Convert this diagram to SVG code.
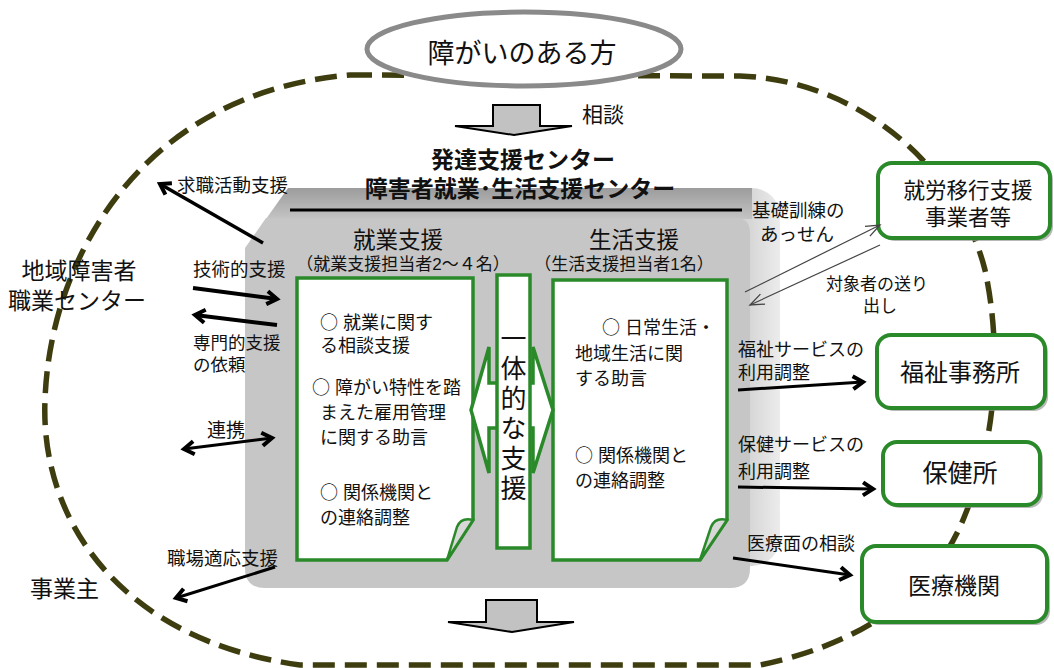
<svg xmlns="http://www.w3.org/2000/svg" width="1054" height="668" viewBox="0 0 1054 668">
<defs>
<style>
text{font-family:"Liberation Sans","Noto Sans CJK JP",sans-serif;fill:#111;}
.c{font-family:"Noto Sans CJK JP",sans-serif;}
.t18{font-size:18px;}
.t185{font-size:18.5px;}
.t23{font-size:23px;}
.title{font-size:23px;font-weight:bold;text-anchor:middle;}
.mid{text-anchor:middle;}
.box{fill:#fff;stroke:#2a8a2a;stroke-width:4;}
.shadow{fill:#9a9a9a;opacity:0.7;}
.panel{fill:#fff;stroke:#2a8a2a;stroke-width:3.5;stroke-linejoin:miter;}
.arr{fill:none;stroke:#000;stroke-width:3.5;marker-end:url(#ah);}
.arr3{fill:none;stroke:#000;stroke-width:3;marker-end:url(#ah);}
.thin{fill:none;stroke:#444;stroke-width:1.2;marker-end:url(#ahThin);}
.big{fill:#c2c2c2;stroke:#000;stroke-width:2;stroke-linejoin:miter;}
</style>
<marker id="ah" markerUnits="userSpaceOnUse" markerWidth="18" markerHeight="18" viewBox="0 0 18 18" refX="14" refY="9" orient="auto-start-reverse">
<path d="M4,2.5 L14,9 L4,15.5" fill="none" stroke="#000" stroke-width="4"/>
</marker>
<marker id="ahThin" markerUnits="userSpaceOnUse" markerWidth="18" markerHeight="14" viewBox="0 0 18 14" refX="16" refY="7" orient="auto">
<path d="M2,1.5 L16,7 L2,12.5" fill="none" stroke="#444" stroke-width="1.3"/>
</marker>
<linearGradient id="bandGrad" x1="0" y1="0" x2="0" y2="1">
<stop offset="0" stop-color="#9c9c9c"/>
<stop offset="1" stop-color="#c4c4c4"/>
</linearGradient>
<linearGradient id="stripGrad" x1="0" y1="0" x2="1" y2="0">
<stop offset="0.8" stop-color="#d2d2d2"/>
<stop offset="1" stop-color="#ececec"/>
</linearGradient>
</defs>

<g id="boundary">
<path d="M 350 75 L 740 76 C 860 80, 960 170, 985 270 C 1000 340, 1000 430, 965 515 C 940 580, 880 640, 760 665 L 300 665 C 120 640, 40 520, 45 400 C 50 255, 145 92, 350 75 Z" fill="none" stroke="#3d3d0f" stroke-width="5.5" stroke-dasharray="22 10"/>
</g>

<g id="person">
<ellipse cx="524" cy="49" rx="157" ry="37" fill="#fff" stroke="#8a8a8a" stroke-width="5"/>
<text x="522" y="63" class="mid" style="font-size:27px">障がいのある方</text>
</g>

<g id="center">
<path class="big" d="M493,105 L540,105 L540,126 L572,126 L514,135 L455,126 L493,126 Z"/>
<text x="582" y="122" style="font-size:21px">相談</text>
<rect x="600" y="188" width="180" height="378" rx="28" fill="url(#stripGrad)"/>
<path d="M 288 188 L 752 188 L 752 219 L 266 219 Z" fill="url(#bandGrad)"/>
<path d="M 266 218 L 735 218 Q 750 218 750 233 L 750 568 Q 750 588 730 588 L 265 588 Q 245 588 245 568 L 245 248 Z" fill="#c6c6c6"/>
<line x1="290" y1="210" x2="742" y2="210" stroke="#000" stroke-width="3"/>
<text class="title"><tspan x="523" y="168">発達支援センター</tspan><tspan x="520" y="197">障害者就業･生活支援センター</tspan></text>
<path class="big" d="M486,600 L537,600 L537,622 L574,622 L512,632 L448,622 L486,622 Z"/>
</g>

<g id="employment">
<text class="mid"><tspan x="398" y="248" style="font-size:22.5px">就業支援</tspan><tspan x="403" y="270" style="font-size:17px">（就業支援担当者2～４名）</tspan></text>
<path class="panel" d="M297,278 L473,278 L473,520 L447,560 L297,560 Z"/>
<path d="M473,520 Q461,517 457,527 L447,560 Z" fill="#d8d8d8" stroke="#2a8a2a" stroke-width="2.5"/>
<text class="t18"><tspan x="320" y="329"><tspan class="c">○</tspan> 就業に関す</tspan><tspan x="320" y="352">る相談支援</tspan></text>
<text class="t18"><tspan x="312" y="394"><tspan class="c">○</tspan> 障がい特性を踏</tspan><tspan x="320" y="419">まえた雇用管理</tspan><tspan x="320" y="444">に関する助言</tspan></text>
<text class="t18"><tspan x="320" y="499"><tspan class="c">○</tspan> 関係機関と</tspan><tspan x="320" y="524">の連絡調整</tspan></text>
</g>

<g id="life">
<text class="mid"><tspan x="634" y="248" style="font-size:22.5px">生活支援</tspan><tspan x="624" y="270" style="font-size:17px">（生活支援担当者1名）</tspan></text>
<path class="panel" d="M553,280 L727,280 L727,520 L700,560 L553,560 Z"/>
<path d="M727,520 Q715,517 711,527 L700,560 Z" fill="#d8d8d8" stroke="#2a8a2a" stroke-width="2.5"/>
<text class="t18"><tspan x="602" y="334"><tspan class="c">○</tspan> 日常生活・</tspan><tspan x="575" y="360">地域生活に関</tspan><tspan x="575" y="385">する助言</tspan></text>
<text class="t18"><tspan x="575" y="462"><tspan class="c">○</tspan> 関係機関と</tspan><tspan x="575" y="487">の連絡調整</tspan></text>
</g>

<g id="integrated">
<path class="panel" d="M471,410 L489,347 L489,383 L533,383 L533,347 L553,410 L533,473 L533,428 L489,428 L489,473 Z"/>
<rect x="497" y="275" width="33" height="273" fill="#fff" stroke="#2a8a2a" stroke-width="3.5"/>
<text class="c" x="513.5" y="325" style="font-size:26px;writing-mode:vertical-rl;letter-spacing:4px">一体的な支援</text>
</g>

<g id="chiiki">
<text class="t23 mid"><tspan x="79" y="278.5">地域障害者</tspan><tspan x="77" y="308.5">職業センター</tspan></text>
</g>

<g id="employer">
<text x="30" y="596.5" class="t23">事業主</text>
</g>

<g id="shuro">
<rect class="shadow" x="881" y="166" width="172" height="75" rx="14"/>
<rect class="box" x="878" y="163" width="172" height="75" rx="14"/>
<text class="mid" style="font-size:21.5px"><tspan x="968" y="198">就労移行支援</tspan><tspan x="968" y="225">事業者等</tspan></text>
</g>

<g id="fukushi">
<rect class="shadow" x="880" y="338" width="168" height="73" rx="14"/>
<rect class="box" x="877" y="335" width="168" height="73" rx="14"/>
<text x="960" y="381" class="mid" style="font-size:24px">福祉事務所</text>
</g>

<g id="hokenjo">
<rect class="shadow" x="886" y="445" width="157" height="63" rx="14"/>
<rect class="box" x="883" y="442" width="157" height="63" rx="14"/>
<text x="960" y="481.5" class="mid" style="font-size:25px">保健所</text>
</g>

<g id="iryo">
<rect class="shadow" x="865" y="549" width="185" height="76" rx="14"/>
<rect class="box" x="862" y="546" width="185" height="76" rx="14"/>
<text x="954" y="594" class="t23 mid">医療機関</text>
</g>

<g id="connectors">
<line class="arr" x1="263" y1="243" x2="160" y2="184"/>
<text class="t185" x="177" y="192">求職活動支援</text>
<line class="arr" x1="193" y1="288" x2="277" y2="299" style="stroke-width:4"/>
<text class="t185" x="193" y="276">技術的支援</text>
<line class="arr" x1="277" y1="325" x2="195" y2="315" style="stroke-width:4"/>
<text style="font-size:17.5px"><tspan x="193" y="349">専門的支援</tspan><tspan x="193" y="371">の依頼</tspan></text>
<line class="arr3" x1="184" y1="449" x2="272" y2="438" style="marker-start:url(#ah)"/>
<text x="207" y="437" style="font-size:19px">連携</text>
<line class="arr3" x1="275" y1="567" x2="176" y2="598"/>
<text class="t185" x="167" y="565">職場適応支援</text>
<line class="thin" x1="745" y1="292" x2="880" y2="225"/>
<line class="thin" x1="880" y1="245" x2="750" y2="305"/>
<text style="font-size:18.5px"><tspan x="752" y="217">基礎訓練の</tspan><tspan x="760" y="241">あっせん</tspan></text>
<text style="font-size:17px"><tspan x="826" y="290">対象者の送り</tspan><tspan x="863" y="312">出し</tspan></text>
<line class="arr3" x1="738" y1="390" x2="863" y2="382"/>
<text class="t18"><tspan x="738" y="356">福祉サービスの</tspan><tspan x="738" y="379">利用調整</tspan></text>
<line class="arr3" x1="738" y1="487" x2="873" y2="489"/>
<text class="t18"><tspan x="738" y="451">保健サービスの</tspan><tspan x="738" y="478">利用調整</tspan></text>
<line class="arr3" x1="733" y1="558" x2="850" y2="575"/>
<text class="t18" x="747" y="550">医療面の相談</text>
</g>
</svg>
